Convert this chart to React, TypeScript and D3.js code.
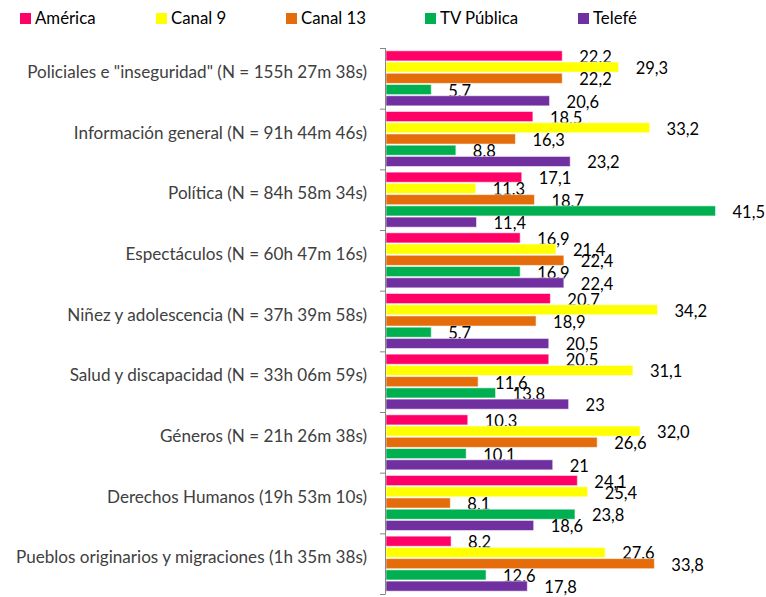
import { useMemo } from 'react';
import * as d3 from 'd3';

const categories = [
  'Policiales e "inseguridad" (N = 155h 27m 38s)',
  'Información general (N = 91h 44m 46s)',
  'Política (N = 84h 58m 34s)',
  'Espectáculos (N = 60h 47m 16s)',
  'Niñez y adolescencia (N = 37h 39m 58s)',
  'Salud y discapacidad (N = 33h 06m 59s)',
  'Géneros (N = 21h 26m 38s)',
  'Derechos Humanos (19h 53m 10s)',
  'Pueblos originarios y migraciones (1h 35m 38s)',
];

const channels = ['América', 'Canal 9', 'Canal 13', 'TV Pública', 'Telefé'];
const colors = ['#FF0066', '#FFFF00', '#E46C0A', '#00B050', '#7030A0'];

// labels as printed (some have no decimal)
const america = ['22,2', '18,5', '17,1', '16,9', '20,7', '20,5', '10,3', '24,1', '8,2'];
const canal9 = ['29,3', '33,2', '11,3', '21,4', '34,2', '31,1', '32,0', '25,4', '27,6'];
const canal13 = ['22,2', '16,3', '18,7', '22,4', '18,9', '11,6', '26,6', '8,1', '33,8'];
const tvPublica = ['5,7', '8,8', '41,5', '16,9', '5,7', '13,8', '10,1', '23,8', '12,6'];
const telefe = ['20,6', '23,2', '11,4', '22,4', '20,5', '23', '21', '18,6', '17,8'];

const series = [america, canal9, canal13, tvPublica, telefe];

const W = 766;
const H = 597;
const FONT = 'Lato, "Open Sans", sans-serif';

export default function App() {
  const rows = useMemo(
    () =>
      categories.map((cat, i) => ({
        cat,
        vals: series.map((s, j) => ({
          ch: channels[j],
          label: s[i],
          v: parseFloat(s[i].replace(',', '.')),
        })),
      })),
    []
  );

  const x = d3.scaleLinear().domain([0, 45]).range([386, 386 + 45 * 7.94]);
  const y0 = d3.scaleBand<string>().domain(categories).range([48, 594]);
  const y1 = d3
    .scaleBand<string>()
    .domain(channels)
    .range([0, y0.bandwidth()])
    .paddingInner(0.1)
    .paddingOuter(0.25);
  const color = d3.scaleOrdinal<string, string>().domain(channels).range(colors);

  // legend positions
  const legendX = [20, 156, 286, 425, 578];

  const tickYs = categories.map((c) => y0(c) as number).concat([594]);

  return (
    <svg
      width={W}
      height={H}
      style={{ position: 'absolute', left: 0, top: 0, background: '#fff' }}
      fontFamily={FONT}
    >
      {/* legend */}
      {channels.map((ch, i) => (
        <g key={ch} transform={`translate(${legendX[i]},13)`}>
          <rect width={11} height={11} fill={color(ch)} />
          <text x={15} y={10.5} fontSize={16.8} fill="#000">
            {ch}
          </text>
        </g>
      ))}

      {/* bars */}
      {rows.map((r) => (
        <g key={r.cat} transform={`translate(0,${y0(r.cat)})`}>
          {r.vals.map((d) => {
            const by = y1(d.ch) as number;
            const bh = y1.bandwidth();
            return (
              <g key={d.ch}>
                <rect
                  x={x(0)}
                  y={by}
                  width={x(d.v) - x(0)}
                  height={bh}
                  fill={color(d.ch)}
                  stroke="#ffffff"
                  strokeOpacity={0.55}
                  strokeWidth={1}
                />
                <text x={x(d.v) + 17} y={by + bh / 2 + 7} fontSize={16.5} fill="#000">
                  {d.label}
                </text>
              </g>
            );
          })}
        </g>
      ))}

      {/* category labels */}
      {categories.map((c) => (
        <text
          key={c}
          x={367}
          y={(y0(c) as number) + y0.bandwidth() / 2 - 0.5}
          textAnchor="end"
          fontSize={17.1}
          fill="#404040"
        >
          {c}
        </text>
      ))}

      {/* axis */}
      <line x1={385.5} x2={385.5} y1={48} y2={594} stroke="#868686" />
      {tickYs.map((t, i) => (
        <line key={i} x1={380} x2={385.5} y1={t + 0.5} y2={t + 0.5} stroke="#868686" />
      ))}
    </svg>
  );
}
